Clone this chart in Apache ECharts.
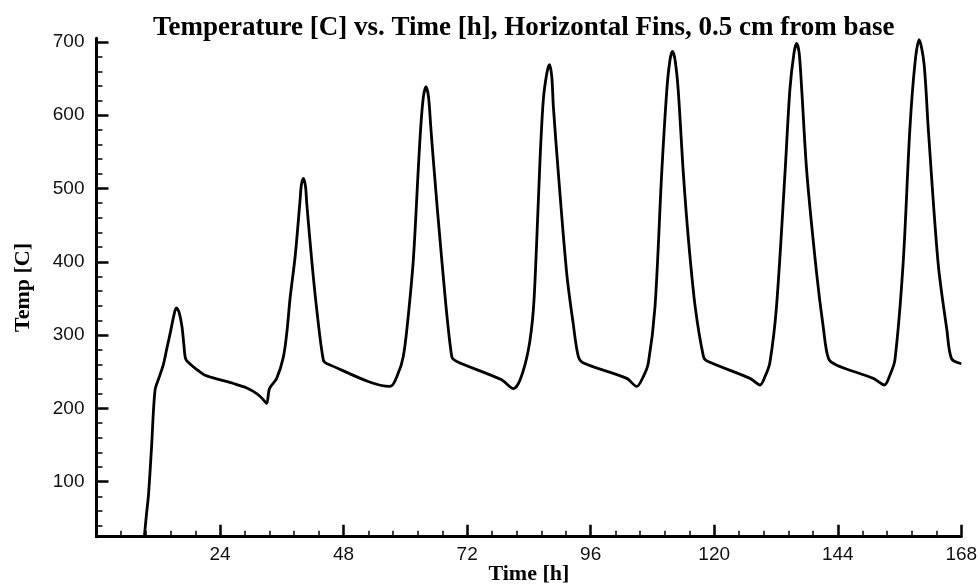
<!DOCTYPE html>
<html>
<head>
<meta charset="utf-8">
<script src="https://cdn.jsdelivr.net/npm/echarts@6/dist/echarts.min.js"></script>
<style>
  html, body { margin: 0; padding: 0; background: #fff; }
  #chart { width: 980px; height: 587px; }
</style>
</head>
<body>
<div id="chart"></div>
<script>
// ---- Data ----
const titleText = 'Temperature [C] vs. Time [h], Horizontal Fins, 0.5 cm from base';
const xName = 'Time [h]';
const yName = 'Temp [C]';

// time in hours
const timeH = [
  9.3, 9.7, 10.1, 10.7, 11.37, 12.2, 13.0, 13.7, 14.3, 15.0, 15.5, 16.0, 16.6, 17.0, 17.35,
  18.3, 19.5, 20.9, 23.0, 26.6, 29.2, 31.2, 32.4, 33.07, 33.6, 35.0, 36.3, 37.0, 37.6, 38.6,
  39.5, 39.8, 40.2, 40.6, 40.84, 41.8, 42.8, 44.07, 44.8, 57.0,
  58.6, 59.6, 60.4, 61.55, 62.5, 63.0, 63.5, 64.0, 64.5, 64.93, 65.43, 67.07, 69.0, 70.0,
  78.7, 81.0, 82.3, 83.9, 84.86, 85.5, 86.16, 86.8, 87.5, 88.0, 88.45, 88.75, 89.72, 91.35,
  92.6, 93.6, 94.6, 103.0, 104.94, 106.2, 107.2, 108.5, 109.8, 110.8, 111.4, 111.9, 112.4,
  113.0, 114.0, 115.0, 116.3, 117.9, 118.5, 126.95, 128.9, 129.9, 130.8, 132.1, 133.75, 134.7,
  135.5, 136.0, 136.5, 137.0, 138.0, 139.9, 141.2, 142.2, 143.8, 150.9, 153.05, 154.1, 155.1,
  156.7, 158.0, 159.0, 159.8, 160.75, 161.6, 163.5, 165.2, 166.1, 168.0
];
// temperature in C
const tempC = [
  25, 55, 82, 148, 225, 243, 260, 283, 302, 326, 337, 332, 312, 285, 267,
  260, 253, 246, 241, 234, 228, 220, 212, 207, 227, 241, 270, 305, 350, 408,
  480, 505, 514, 503, 480, 403, 334, 266, 261, 230,
  248, 271, 315, 403, 525, 585, 625, 639, 625, 585, 539, 403, 271, 264,
  239, 227, 239, 280, 334, 425, 539, 621, 658, 669, 652, 612, 521, 384,
  316, 271, 262, 241, 230, 243, 262, 339, 521, 635, 675, 687, 675,
  635, 521, 430, 339, 271, 265, 241, 232, 244, 262, 339, 521, 635,
  685, 698, 685, 635, 521, 384, 310, 268, 259, 241, 232, 245, 266,
  398, 580, 671, 703, 671, 580, 398, 307, 268, 261
];

// axis ticks
const xMin = 0, xMax = 168, xStep = 24;
const yMin = 25, yMax = 705;
const yMajorTicks = [100, 200, 300, 400, 500, 600, 700];
const yMinorTicks = [40, 60, 80, 120, 140, 160, 180, 220, 240, 260, 280, 320, 340, 360, 380,
                     420, 440, 460, 480, 520, 540, 560, 580, 620, 640, 660, 680];

// ---- Chart ----
const chart = echarts.init(document.getElementById('chart'), null, { renderer: 'canvas' });
const black = '#000';
const seriesData = timeH.map((t, i) => [t, tempC[i]]);

chart.setOption({
  animation: false,
  backgroundColor: '#fff',
  title: {
    text: titleText,
    left: 148,
    top: 10,
    textStyle: { fontFamily: 'Liberation Serif', fontWeight: 'bold', fontSize: 27, color: black }
  },
  grid: { left: 96.5, right: 18.7, top: 38.3, bottom: 50.3, containLabel: false, outerBoundsMode: 'none' },
  xAxis: {
    type: 'value',
    min: xMin, max: xMax, interval: xStep,
    name: xName,
    nameLocation: 'middle',
    nameGap: 27,
    nameMoveOverlap: false,
    nameTextStyle: { fontFamily: 'Liberation Serif', fontWeight: 'bold', fontSize: 22, color: black },
    axisLine: { show: true, onZero: false, lineStyle: { color: black, width: 3 } },
    axisTick: { show: true, inside: true, length: 12, lineStyle: { color: black, width: 2.5 } },
    minorTick: { show: true, splitNumber: 5, length: 6, lineStyle: { color: black, width: 1.5 } },
    axisLabel: { showMinLabel: false, fontFamily: 'Liberation Sans', fontSize: 19, color: '#111', margin: 9 },
    splitLine: { show: false },
    minorSplitLine: { show: false }
  },
  yAxis: [
    {
      type: 'value',
      position: 'left',
      min: yMin, max: yMax,
      name: yName,
      nameLocation: 'middle',
      nameGap: 62,
      nameMoveOverlap: false,
      nameTextStyle: { fontFamily: 'Liberation Serif', fontWeight: 'bold', fontSize: 22, color: black },
      axisLine: { show: true, onZero: false, lineStyle: { color: black, width: 3 } },
      axisTick: { show: true, inside: true, length: 12, customValues: yMajorTicks, lineStyle: { color: black, width: 2.5 } },
      axisLabel: { customValues: yMajorTicks, fontFamily: 'Liberation Sans', fontSize: 19, color: '#111', margin: 12 },
      splitLine: { show: false }
    },
    {
      type: 'value',
      position: 'left',
      min: yMin, max: yMax,
      axisLine: { show: false },
      axisTick: { show: true, inside: true, length: 6, customValues: yMinorTicks, lineStyle: { color: black, width: 1.5 } },
      axisLabel: { show: false },
      splitLine: { show: false }
    }
  ],
  series: [{
    type: 'line',
    data: seriesData,
    showSymbol: false,
    smooth: 0.3,
    clip: true,
    lineStyle: { color: black, width: 2.8 }
  }]
});
</script>
</body>
</html>
